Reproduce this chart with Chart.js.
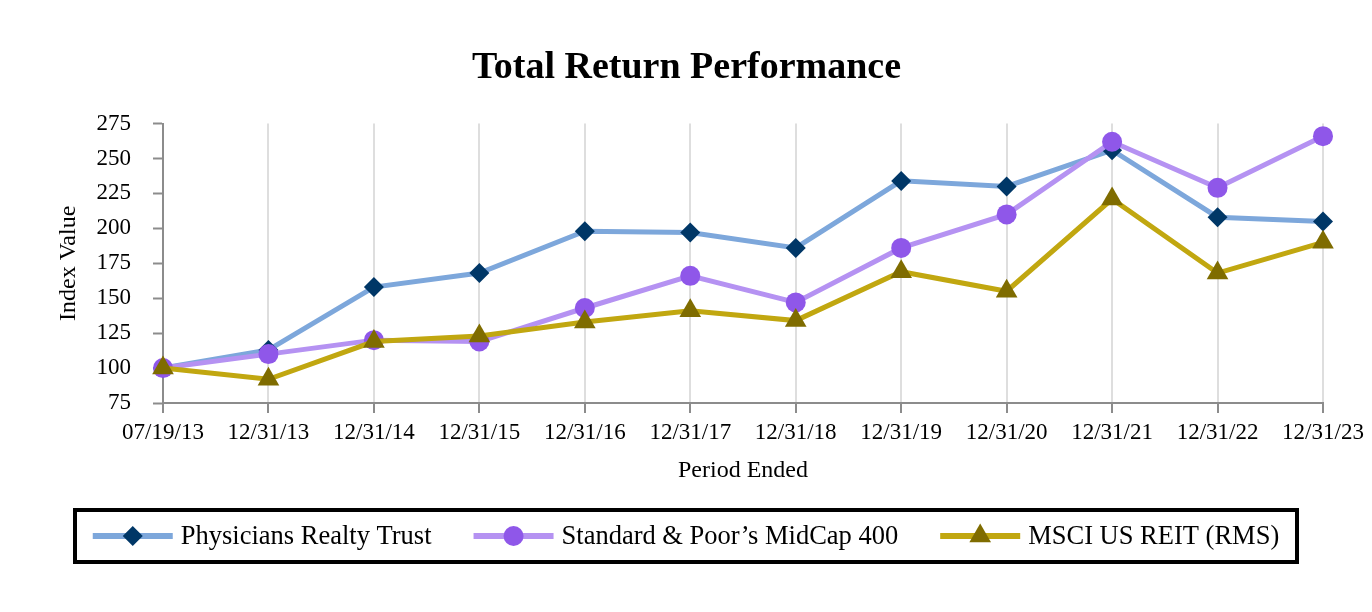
<!DOCTYPE html>
<html>
<head>
<meta charset="utf-8">
<script src="https://cdn.jsdelivr.net/npm/chart.js@4.4.1/dist/chart.umd.min.js"></script>
<style>
  html, body { margin: 0; padding: 0; background: #ffffff; }
  #wrap { width: 1372px; height: 612px; }
</style>
</head>
<body>
<div id="wrap"><canvas id="myChart" width="1372" height="612"></canvas></div>
<script>
const periods = ['07/19/13', '12/31/13', '12/31/14', '12/31/15', '12/31/16', '12/31/17',
    '12/31/18', '12/31/19', '12/31/20', '12/31/21', '12/31/22', '12/31/23'];
const seriesNames = ['Physicians Realty Trust', 'Standard & Poor\u2019s MidCap 400', 'MSCI US REIT (RMS)'];
const physiciansValues = [100, 113, 158, 168, 198, 197, 186, 234, 230, 256, 208, 205];
const midcapValues = [100, 110, 120, 119, 143, 166, 147, 186, 210, 262, 229, 266];
const reitValues = [100, 92, 119, 123, 133, 141, 134, 169, 155, 221, 168, 190];
const yTicks = { min: 75, max: 275, step: 25 };

document.addEventListener('DOMContentLoaded', function () {
    const serif = 'Liberation Serif';
    const ctx = document.getElementById('myChart').getContext('2d');

    function drawMarker(c, style, x, y, r, color) {
        c.save();
        c.fillStyle = color;
        c.beginPath();
        if (style === 'rectRot') {
            c.moveTo(x, y - r); c.lineTo(x + r, y); c.lineTo(x, y + r); c.lineTo(x - r, y);
        } else if (style === 'triangle') {
            // same shape as chart.js: inscribed in a circle of radius r
            const s = Math.sin(Math.PI / 3) * r;
            c.moveTo(x, y - r); c.lineTo(x + s, y + r / 2); c.lineTo(x - s, y + r / 2);
        } else {
            c.arc(x, y, r, 0, Math.PI * 2);
        }
        c.closePath();
        c.fill();
        c.restore();
    }

    // boxed legend: line + marker + label
    const boxLegend = {
        id: 'boxLegend',
        afterDraw(chart) {
            const c = chart.ctx;
            const box = { left: 73, right: 1299, top: 508, bottom: 564 };
            const cy = (box.top + box.bottom) / 2;
            const lineLen = 80, textGap = 8, itemGap = 42;
            c.save();
            c.lineWidth = 4;
            c.strokeStyle = '#000000';
            c.strokeRect(box.left + 2, box.top + 2, box.right - box.left - 4, box.bottom - box.top - 4);
            c.font = '26.5px "' + serif + '"';
            const sets = chart.data.datasets;
            const widths = sets.map(d => c.measureText(d.label).width);
            let total = 0;
            widths.forEach((w, i) => { total += lineLen + textGap + w + (i ? itemGap : 0); });
            let x = (box.left + box.right) / 2 - total / 2;
            sets.forEach((d, i) => {
                c.strokeStyle = d.borderColor;
                c.lineWidth = 6;
                c.beginPath();
                c.moveTo(x, cy);
                c.lineTo(x + lineLen, cy);
                c.stroke();
                drawMarker(c, d.pointStyle, x + lineLen / 2, cy, d.pointRadius, d.pointBackgroundColor);
                c.fillStyle = '#000000';
                c.textBaseline = 'middle';
                c.textAlign = 'left';
                c.fillText(d.label, x + lineLen + textGap, cy + 1);
                x += lineLen + textGap + widths[i] + itemGap;
            });
            c.restore();
        }
    };

    new Chart(ctx, {
        type: 'line',
        data: {
            labels: periods,
            datasets: [{
                label: seriesNames[0],
                data: physiciansValues,
                borderColor: '#7DA7DB',
                borderWidth: 5,
                pointStyle: 'rectRot',
                pointRadius: 10,
                pointBackgroundColor: '#003767',
                pointBorderColor: '#003767',
                pointBorderWidth: 0,
                order: 2
            }, {
                label: seriesNames[1],
                data: midcapValues,
                borderColor: '#B592F2',
                borderWidth: 5,
                pointStyle: 'circle',
                pointRadius: 10,
                pointBackgroundColor: '#8F57E9',
                pointBorderColor: '#8F57E9',
                pointBorderWidth: 0,
                order: 1
            }, {
                label: seriesNames[2],
                data: reitValues,
                borderColor: '#C1A710',
                borderWidth: 5,
                pointStyle: 'triangle',
                pointRadius: 12.5,
                pointBackgroundColor: '#7F6C00',
                pointBorderColor: '#7F6C00',
                pointBorderWidth: 0,
                order: 0
            }]
        },
        options: {
            responsive: false,
            animation: false,
            layout: {
                padding: { left: 50, right: 49, top: 0, bottom: 125 }
            },
            elements: { line: { tension: 0 } },
            scales: {
                x: {
                    offset: false,
                    afterFit: function (scale) { scale.height = 84; },
                    grid: {
                        display: true,
                        color: '#DEDEDE',
                        lineWidth: 2,
                        drawTicks: true,
                        tickLength: 10,
                        tickColor: '#8C8C8C',
                        tickWidth: 2
                    },
                    border: { color: '#8C8C8C', width: 2 },
                    ticks: {
                        color: '#000000',
                        padding: 6,
                        maxRotation: 0,
                        autoSkip: false,
                        font: { family: serif, size: 23 }
                    },
                    title: {
                        display: true,
                        text: 'Period Ended',
                        color: '#000000',
                        padding: { top: 2, bottom: 2 },
                        font: { family: serif, size: 24 }
                    }
                },
                y: {
                    min: yTicks.min,
                    max: yTicks.max,
                    afterFit: function (scale) { scale.width = 113; },
                    grid: {
                        drawOnChartArea: false,
                        drawTicks: true,
                        tickLength: 10,
                        tickColor: '#8C8C8C',
                        tickWidth: 2
                    },
                    border: { color: '#8C8C8C', width: 2 },
                    ticks: {
                        stepSize: yTicks.step,
                        color: '#000000',
                        padding: 22,
                        font: { family: serif, size: 23 }
                    },
                    title: {
                        display: true,
                        text: 'Index Value',
                        color: '#000000',
                        padding: { top: 4, bottom: 4 },
                        font: { family: serif, size: 24 }
                    }
                }
            },
            plugins: {
                legend: { display: false },
                tooltip: { enabled: false },
                title: {
                    display: true,
                    text: 'Total Return Performance',
                    color: '#000000',
                    padding: { top: 45, bottom: 33 },
                    font: { family: serif, size: 38, weight: 'bold' }
                }
            }
        },
        plugins: [boxLegend]
    });
});
</script>
</body>
</html>
